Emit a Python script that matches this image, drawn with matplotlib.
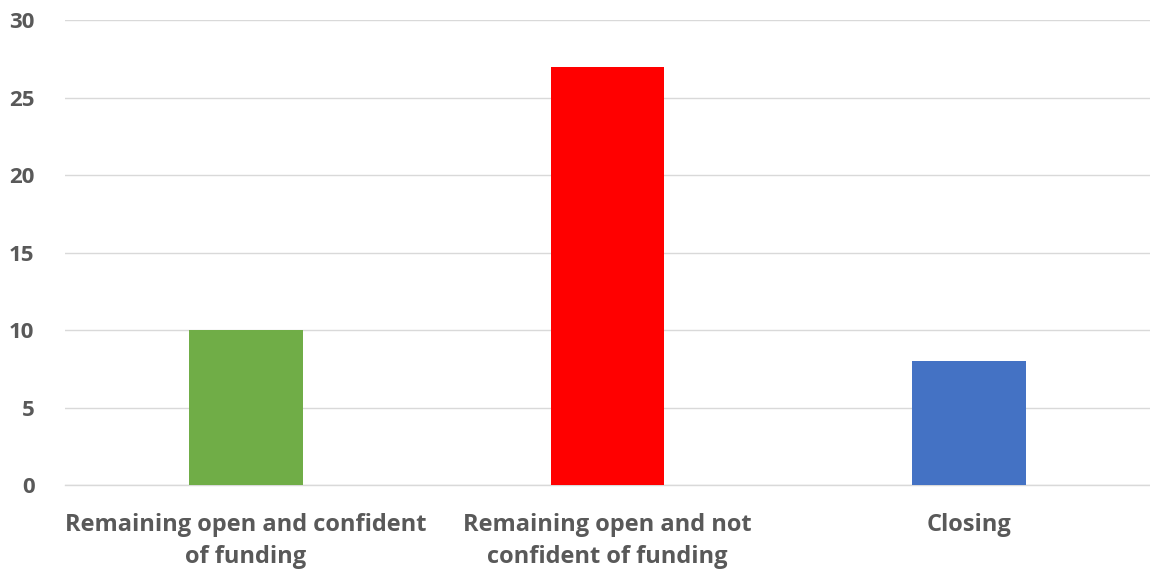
import matplotlib.pyplot as plt

categories = ["Remaining open and confident\nof funding",
              "Remaining open and not\nconfident of funding",
              "Closing"]
values = [10, 27, 8]
bar_colors = ["#70ad47", "#ff0000", "#4472c4"]
yticks = [0, 5, 10, 15, 20, 25, 30]

plt.rcParams['font.family'] = ['Open Sans', 'DejaVu Sans']

fig = plt.figure(figsize=(11.5, 5.72), dpi=100)
ax = fig.add_axes([0.0565, 0.152, 0.9435, 0.813])

x = range(len(categories))
ax.bar(x, values, width=0.315, color=bar_colors, zorder=3)

ax.set_xlim(-0.5, 2.5)
ax.set_ylim(0, 30)
ax.set_yticks(yticks)
ax.set_xticks(list(x))
ax.set_xticklabels(categories, fontsize=17, fontweight='bold', color='#595959', linespacing=1.45)
ax.tick_params(axis='y', labelsize=16, labelcolor='#595959', length=0, pad=22)
ax.tick_params(axis='x', length=0, pad=20)
for lab in ax.get_yticklabels():
    lab.set_fontweight('bold')

ax.grid(axis='y', color='#d9d9d9', linewidth=1, zorder=0)
for s in ['top', 'right', 'left']:
    ax.spines[s].set_visible(False)
ax.spines['bottom'].set_color('#d9d9d9')
ax.spines['bottom'].set_linewidth(1)

fig.savefig("out.png", dpi=100)
